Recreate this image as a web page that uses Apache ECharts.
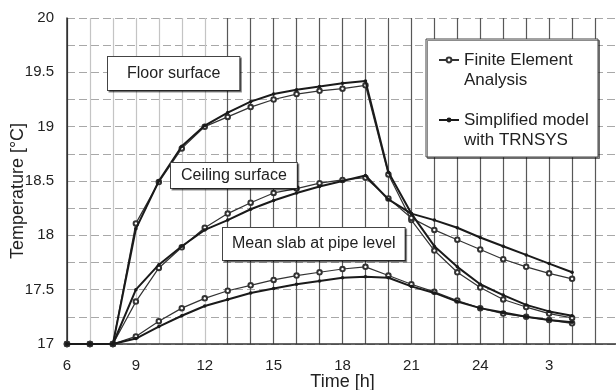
<!DOCTYPE html>
<html>
<head>
<meta charset="utf-8">
<script src="https://cdn.jsdelivr.net/npm/echarts@6/dist/echarts.min.js"></script>
<style>html,body{margin:0;padding:0;background:#fff}#c{width:616px;height:390px}</style>
</head>
<body>
<div id="c"></div>
<script>
// Hours (6 = 6 am, 24 = midnight, 28 = 4 am next day)
const hours = [6,7,8,9,10,11,12,13,14,15,16,17,18,19,20,21,22,23,24,25,26,27,28];
const xTickLabels = ['6','9','12','15','18','21','24','3'];

const floorFEA     = [17,17,17,18.11,18.49,18.80,19.00,19.09,19.18,19.25,19.30,19.33,19.35,19.38,18.56,18.14,17.86,17.66,17.52,17.41,17.34,17.28,17.24];
const floorTRNSYS  = [17,17,17,18.06,18.50,18.82,19.01,19.13,19.23,19.30,19.34,19.37,19.40,19.42,18.58,18.20,17.90,17.71,17.55,17.45,17.36,17.30,17.26];
const ceilFEA      = [17,17,17,17.39,17.70,17.89,18.07,18.20,18.30,18.39,18.43,18.48,18.51,18.53,18.34,18.16,18.05,17.96,17.87,17.78,17.71,17.65,17.60];
const ceilTRNSYS   = [17,17,17,17.50,17.73,17.90,18.05,18.14,18.24,18.32,18.39,18.45,18.50,18.55,18.33,18.20,18.14,18.07,17.98,17.90,17.82,17.74,17.66];
const slabFEA      = [17,17,17,17.07,17.21,17.33,17.42,17.49,17.54,17.59,17.63,17.66,17.69,17.71,17.63,17.55,17.48,17.40,17.33,17.28,17.25,17.22,17.19];
const slabTRNSYS   = [17,17,17,17.05,17.16,17.26,17.35,17.41,17.47,17.51,17.55,17.58,17.61,17.62,17.61,17.53,17.47,17.39,17.33,17.29,17.25,17.22,17.20];

const FEA = 'Finite Element Analysis';
const TRN = 'Simplified model with TRNSYS';
const FONT = "'Liberation Sans', Arial, Helvetica, sans-serif";

function pairs(vals){ return hours.map((h,i)=>[h, vals[i]]); }

function feaSeries(vals){
  return {
    name: FEA, type: 'line', data: pairs(vals),
    symbol: 'emptyCircle', symbolSize: 4.5,
    lineStyle: {color: '#333', width: 1.2},
    itemStyle: {color: '#333', borderWidth: 1},
    z: 3
  };
}
function trnSeries(vals){
  return {
    name: TRN, type: 'line', data: pairs(vals),
    symbol: 'circle', symbolSize: 3.5,
    lineStyle: {color: '#1a1a1a', width: 2},
    itemStyle: {color: '#1a1a1a'},
    z: 4
  };
}

// vertical grid colours: 6h..30h (light before 13h, dark afterwards)
const vColors = [];
for (let h = 6; h <= 30; h++) vColors.push(h === 6 ? '#333' : (h <= 12 ? '#c4c4c4' : '#585858'));

function box(text, x, y, pad){
  return {
    type: 'text', x: x, y: y, z: 100,
    style: {
      text: text, fontFamily: FONT, fontSize: 16, lineHeight: 17, fill: '#222',
      padding: pad, backgroundColor: '#fff', borderColor: '#444', borderWidth: 1,
      shadowColor: 'rgba(0,0,0,0.45)', shadowOffsetX: 1.5, shadowOffsetY: 1.5
    }
  };
}

const chart = echarts.init(document.getElementById('c'), null, {renderer: 'canvas'});
chart.setOption({
  animation: false,
  backgroundColor: '#fff',
  textStyle: {fontFamily: FONT},
  grid: {left: 67, top: 18, right: -2, bottom: 46, containLabel: false, outerBoundsMode: 'none'},
  xAxis: {
    type: 'value', min: 6, max: 30, interval: 1,
    name: 'Time [h]', nameLocation: 'middle', nameGap: 29, nameMoveOverlap: false,
    nameTextStyle: {fontSize: 18, color: '#222', fontFamily: FONT},
    axisLine: {show: true, lineStyle: {color: '#333', width: 1.5}},
    axisTick: {show: false},
    axisLabel: {
      fontSize: 15, color: '#222', margin: 14, fontFamily: FONT,
      formatter: function(v){ return (v % 3 === 0 && v < 30) ? xTickLabels[(v - 6) / 3] : ''; }
    },
    splitLine: {show: true, lineStyle: {color: vColors, width: 1.2}}
  },
  yAxis: {
    type: 'value', min: 17, max: 20, interval: 0.5,
    name: '{t|Temperature [°C]}{s|}', nameLocation: 'middle', nameGap: 40, nameRotate: 90, nameMoveOverlap: false,
    nameTextStyle: {fontSize: 18, color: '#222', fontFamily: FONT,
      rich: {t: {fontSize: 18, color: '#222', fontFamily: FONT}, s: {width: 20}}},
    axisLine: {show: true, lineStyle: {color: '#333', width: 1.5}},
    axisTick: {show: false},
    axisLabel: {fontSize: 15, color: '#222', margin: 13, fontFamily: FONT},
    splitLine: {show: true, lineStyle: {color: '#a8a8a8', width: 1, type: [8, 4]}},
    minorTick: {show: false, splitNumber: 2},
    minorSplitLine: {show: true, lineStyle: {color: '#a8a8a8', width: 1, type: [8, 4]}}
  },
  legend: {
    left: 438, top: 30, orient: 'vertical', z: 20,
    data: [FEA, TRN],
    itemWidth: 20, itemHeight: 6, itemGap: 0,
    padding: 0,
    textStyle: {fontSize: 17, lineHeight: 20, color: '#222', fontFamily: FONT},
    formatter: function(n){ return n === FEA ? '\nFinite Element\nAnalysis' : '\nSimplified model\nwith TRNSYS'; }
  },
  graphic: [
    {
      type: 'rect', z: 10, shape: {x: 426, y: 39, width: 172, height: 118},
      style: {fill: '#fff', stroke: '#444', lineWidth: 1,
        shadowColor: 'rgba(0,0,0,0.45)', shadowOffsetX: 1.5, shadowOffsetY: 1.5}
    },
    box('Floor surface', 108, 57, [8, 19, 8, 19]),
    box('Ceiling surface', 171, 163, [4, 10, 4, 10]),
    box('Mean slab at pipe level', 223, 228, [7.5, 9, 7.5, 9])
  ],
  series: [
    feaSeries(floorFEA), trnSeries(floorTRNSYS),
    feaSeries(ceilFEA), trnSeries(ceilTRNSYS),
    feaSeries(slabFEA), trnSeries(slabTRNSYS)
  ]
});
</script>
</body>
</html>
